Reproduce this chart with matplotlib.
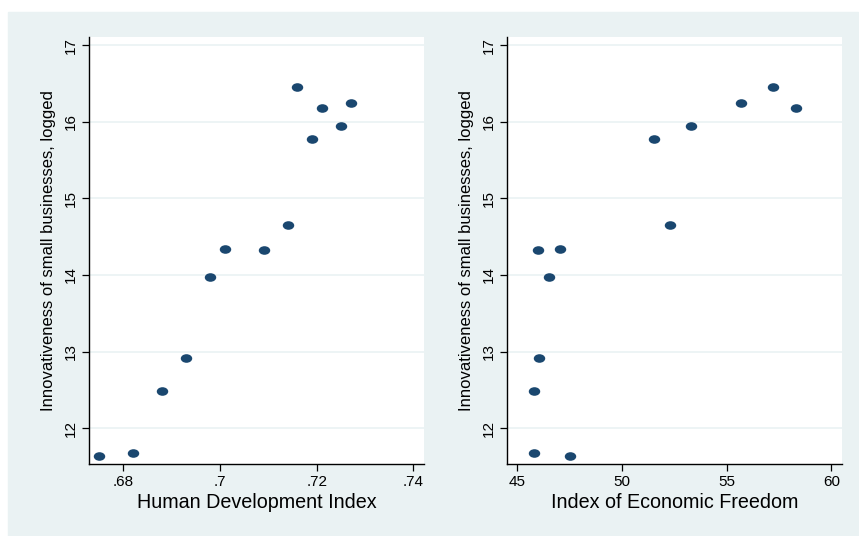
import numpy as np
import matplotlib.pyplot as plt
from matplotlib.path import Path
from matplotlib.patches import Rectangle

plt.rcParams['font.family'] = ['Liberation Sans', 'DejaVu Sans']

# dados
inovacao = [11.64, 11.67, 12.49, 12.92, 13.97, 14.34, 14.33, 14.65, 16.46, 15.78, 16.18, 15.95, 16.25]
idh = [0.675, 0.682, 0.688, 0.693, 0.698, 0.701, 0.709, 0.714, 0.716, 0.719, 0.721, 0.725, 0.727]
liberdade = [47.52, 45.81, 45.81, 46.02, 46.51, 47.02, 46.00, 52.31, 57.20, 51.51, 58.30, 53.31, 55.70]

yticks = [12, 13, 14, 15, 16, 17]
xticks_idh = [0.68, 0.70, 0.72, 0.74]
xlabels_idh = ['.68', '.7', '.72', '.74']
xticks_lib = [45, 50, 55, 60]

cor_fundo = '#eaf2f3'
cor_ponto = '#1a476f'

# marcador um pouco achatado
circ = Path.unit_circle()
elipse = Path(circ.vertices * np.array([1.0, 0.75]), circ.codes)

fig = plt.figure(figsize=(8.59, 5.36), dpi=100)
fig.patches.append(Rectangle((8 / 859, 0), 850 / 859, 524 / 536,
                             transform=fig.transFigure, color=cor_fundo, zorder=-10))

ax1 = fig.add_axes([89 / 859, 72 / 536, 335 / 859, 427 / 536])
ax2 = fig.add_axes([507.3 / 859, 72 / 536, 334.7 / 859, 427 / 536])

def estilo(ax, x, xlim, xticks, xlabels, xlabel):
    ax.scatter(x, inovacao, marker=elipse, s=68, color=cor_ponto, zorder=3, linewidths=0)
    ax.set_ylim(11.53, 17.11)
    ax.set_xlim(*xlim)
    ax.set_yticks(yticks)
    ax.set_yticklabels([str(v) for v in yticks], rotation=90, va='center')
    ax.set_xticks(xticks)
    ax.set_xticklabels(xlabels)
    ax.grid(axis='y', color=cor_fundo, linewidth=1.2)
    ax.set_axisbelow(True)
    for s in ['top', 'right']:
        ax.spines[s].set_visible(False)
    for s in ['left', 'bottom']:
        ax.spines[s].set_linewidth(1.0)
    ax.tick_params(length=5, width=0.9, labelsize=11, pad=3)
    ax.set_xlabel(xlabel, fontsize=14.2, labelpad=3)
    ax.set_ylabel('Innovativeness of small businesses, logged', fontsize=12, labelpad=6)

estilo(ax1, idh, (0.6729, 0.7422), xticks_idh, xlabels_idh, 'Human Development Index')
estilo(ax2, liberdade, (44.52, 60.51), xticks_lib, [str(v) for v in xticks_lib], 'Index of Economic Freedom')

fig.savefig('out.png', dpi=100)
